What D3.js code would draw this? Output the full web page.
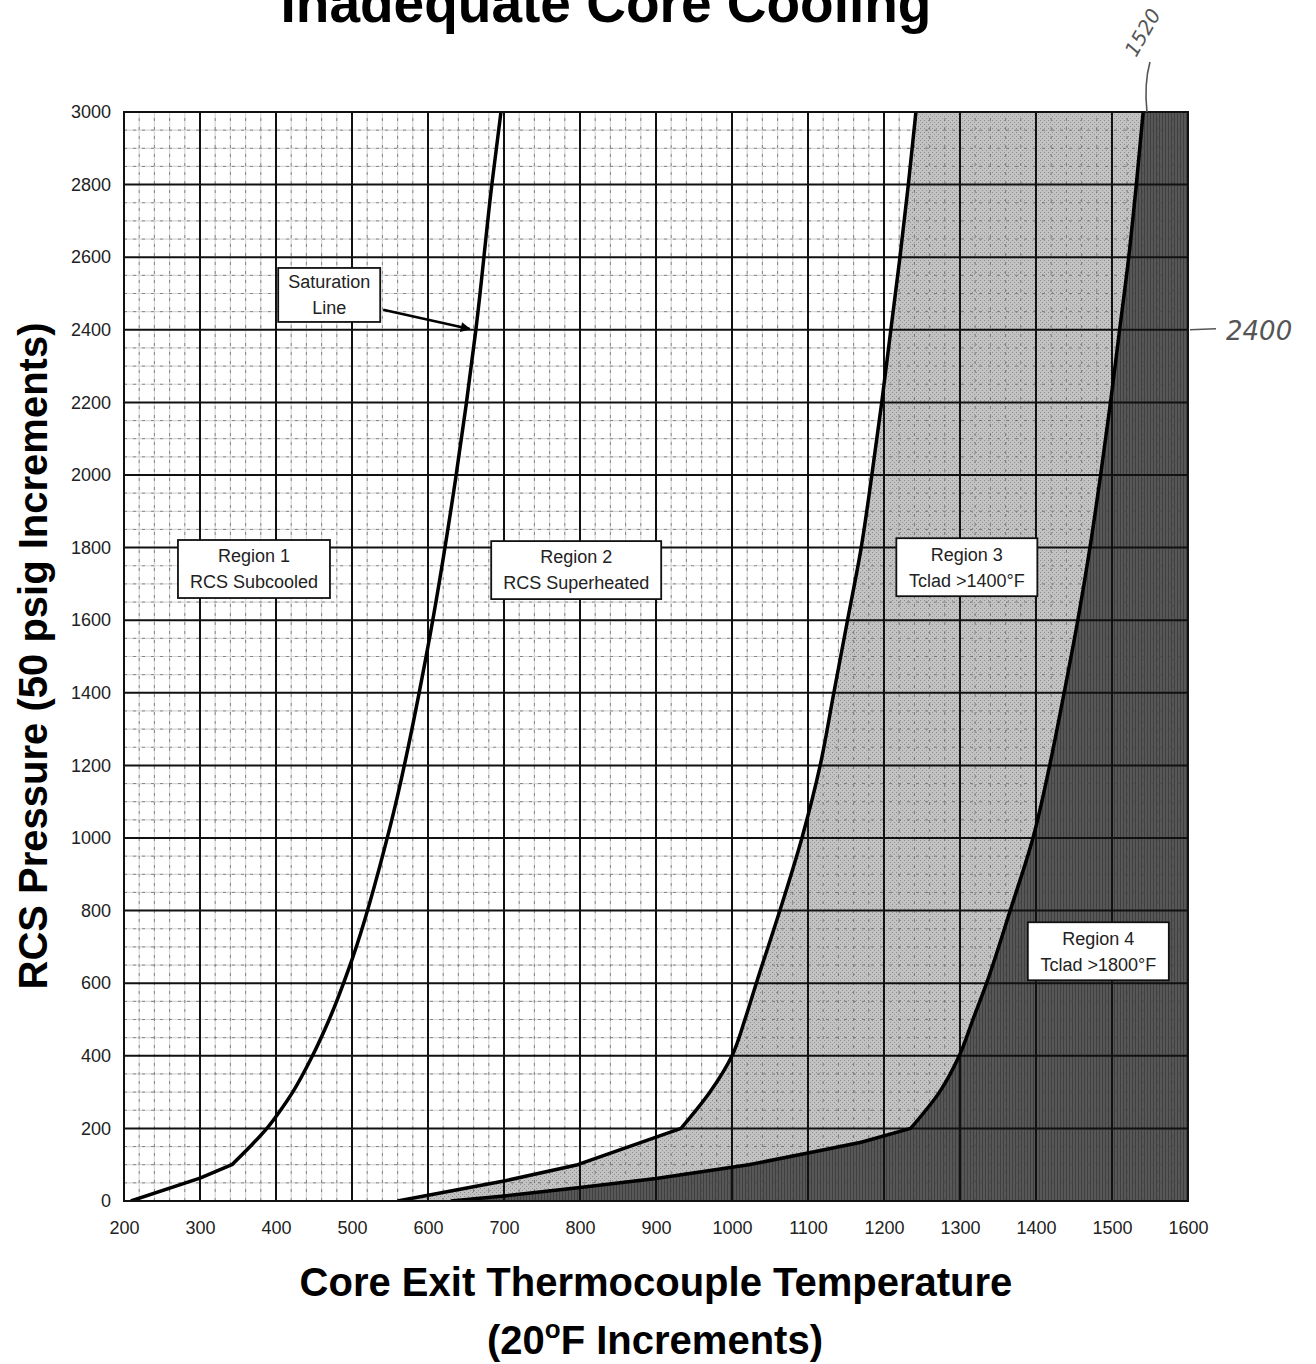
<!DOCTYPE html>
<html>
<head>
<meta charset="utf-8">
<script src="https://cdn.jsdelivr.net/npm/d3@7"></script>
<style>
  body { margin: 0; background: #fff; }
  svg { display: block; font-family: "Liberation Sans", Arial, sans-serif; }
</style>
</head>
<body>
<div id="chart"></div>
<script>
// axis ticks
const tempTicks = [200, 300, 400, 500, 600, 700, 800, 900, 1000, 1100, 1200, 1300, 1400, 1500, 1600];
const presTicks = [0, 200, 400, 600, 800, 1000, 1200, 1400, 1600, 1800, 2000, 2200, 2400, 2600, 2800, 3000];

// saturation line (Region 1 / Region 2); straight part up to the kink, then a smooth curve
const satLowTemp = [209, 300, 342];
const satLowPres = [0, 63, 100];
const satTemp = [342, 366, 388, 406, 422, 448, 470, 500, 550, 600, 636, 663, 684, 696];
const satPres = [100, 150, 200, 250, 300, 400, 500, 665, 1030, 1528, 1985, 2400, 2800, 3000];

// Region 2 / Region 3 boundary
const r3LowTemp = [560, 700, 797, 933];
const r3LowPres = [0, 55, 100, 200];
const r3Temp = [933, 971, 1000, 1017, 1032, 1063, 1092, 1116, 1134, 1152, 1170, 1184, 1197, 1209, 1221, 1232, 1242];
const r3Pres = [200, 300, 400, 500, 600, 800, 1000, 1200, 1400, 1600, 1800, 2000, 2200, 2400, 2600, 2800, 3000];

// Region 3 / Region 4 boundary
const r4LowTemp = [630, 700, 800, 900, 1022, 1100, 1170, 1235];
const r4LowPres = [0, 14, 37, 62, 100, 132, 162, 200];
const r4Temp = [1235, 1273, 1299, 1317, 1335, 1366, 1396, 1418, 1437, 1455, 1471, 1485, 1498, 1510, 1522, 1532, 1541];
const r4Pres = [200, 300, 400, 500, 600, 800, 1000, 1200, 1400, 1600, 1800, 2000, 2200, 2400, 2600, 2800, 3000];

// region labels
const labelText = [["Saturation", "Line"], ["Region 1", "RCS Subcooled"], ["Region 2", "RCS Superheated"],
                   ["Region 3", "Tclad >1400°F"], ["Region 4", "Tclad >1800°F"]];
const labelTemp = [470, 371, 795, 1309, 1482];
const labelPres = [2496, 1741, 1738, 1746, 688];
const labelWidth = [102, 152, 170, 141, 141];

const width = 1316, height = 1364;
const margin = { top: 112, right: 128, bottom: 163, left: 124 };

const svg = d3.select("#chart").append("svg")
  .attr("width", width)
  .attr("height", height);

const x = d3.scaleLinear().domain([200, 1600]).range([margin.left, width - margin.right]);
const y = d3.scaleLinear().domain([0, 3000]).range([height - margin.bottom, margin.top]);

const toPts = (ts, ps) => ts.map((t, i) => ({ t: t, p: ps[i] }));

// textures
const defs = svg.append("defs");
const p3 = defs.append("pattern").attr("id", "tex3").attr("patternUnits", "userSpaceOnUse")
  .attr("width", 4).attr("height", 4);
p3.append("rect").attr("width", 4).attr("height", 4).attr("fill", "#c2c2c2");
p3.append("rect").attr("x", 0).attr("y", 0).attr("width", 1).attr("height", 1).attr("fill", "#8c8c8c");
p3.append("rect").attr("x", 2).attr("y", 2).attr("width", 1).attr("height", 1).attr("fill", "#959595");
const p4 = defs.append("pattern").attr("id", "tex4").attr("patternUnits", "userSpaceOnUse")
  .attr("width", 3).attr("height", 3);
p4.append("rect").attr("width", 3).attr("height", 3).attr("fill", "#575757");
p4.append("rect").attr("x", 1).attr("width", 1).attr("height", 3).attr("fill", "#404040");
defs.append("clipPath").attr("id", "plotClip").append("rect")
  .attr("x", x(200)).attr("y", y(3000)).attr("width", x(1600) - x(200)).attr("height", y(0) - y(3000));
defs.append("marker").attr("id", "arrow").attr("viewBox", "0 0 10 10")
  .attr("refX", 9).attr("refY", 5).attr("markerWidth", 5).attr("markerHeight", 4)
  .attr("orient", "auto").attr("markerUnits", "strokeWidth")
  .append("path").attr("d", "M0,0L10,5L0,10z").attr("fill", "#000");

const plot = svg.append("g").attr("clip-path", "url(#plotClip)");

const minorT = d3.range(200, 1601, 20).filter(v => v % 100 !== 0);
const minorP = d3.range(0, 3001, 50).filter(v => v % 200 !== 0);

// light minor grid (only shows in the white regions)
const light = plot.append("g").attr("stroke", "#d6d6d6").attr("stroke-width", 1.2);
light.selectAll(".lv").data(minorT).join("line")
  .attr("x1", d => x(d)).attr("x2", d => x(d)).attr("y1", y(0)).attr("y2", y(3000));
light.selectAll(".lh").data(minorP).join("line")
  .attr("y1", d => y(d)).attr("y2", d => y(d)).attr("x1", x(200)).attr("x2", x(1600));

// boundary path: straight low part + smooth upper part
const lowLine = d3.line().x(d => x(d.t)).y(d => y(d.p));
const upLine = d3.line().curve(d3.curveMonotoneY).x(d => x(d.t)).y(d => y(d.p));
const boundary = (lt, lp, ut, up) => lowLine(toPts(lt, lp)) + upLine(toPts(ut, up)).replace(/^M/, "L");

const satPath = boundary(satLowTemp, satLowPres, satTemp, satPres);
const r3Path = boundary(r3LowTemp, r3LowPres, r3Temp, r3Pres);
const r4Path = boundary(r4LowTemp, r4LowPres, r4Temp, r4Pres);
const closeRight = `L${x(1600)},${y(3000)}L${x(1600)},${y(0)}Z`;

// region fills
plot.append("path").attr("d", r3Path + closeRight).attr("fill", "url(#tex3)");
plot.append("path").attr("d", r4Path + closeRight).attr("fill", "url(#tex4)");

// dashed minor grid (20 F, 50 psig)
const minor = plot.append("g").attr("stroke", "#444").attr("stroke-width", 1)
  .attr("stroke-dasharray", "3,6").attr("opacity", 0.55);
minor.selectAll(".mv").data(minorT).join("line")
  .attr("x1", d => x(d)).attr("x2", d => x(d)).attr("y1", y(0)).attr("y2", y(3000));
minor.selectAll(".mh").data(minorP).join("line")
  .attr("y1", d => y(d)).attr("y2", d => y(d)).attr("x1", x(200)).attr("x2", x(1600));

// major grid
const major = plot.append("g").attr("stroke", "#111").attr("stroke-width", 2);
major.selectAll(".v").data(tempTicks).join("line")
  .attr("x1", d => x(d)).attr("x2", d => x(d)).attr("y1", y(0)).attr("y2", y(3000));
major.selectAll(".h").data(presTicks).join("line")
  .attr("y1", d => y(d)).attr("y2", d => y(d)).attr("x1", x(200)).attr("x2", x(1600));

// boundary curves
[satPath, r3Path, r4Path].forEach(d => {
  plot.append("path")
    .attr("d", d)
    .attr("fill", "none")
    .attr("stroke", "#000")
    .attr("stroke-width", 3.5)
    .attr("stroke-linejoin", "round");
});

// frame
svg.append("rect")
  .attr("x", x(200)).attr("y", y(3000))
  .attr("width", x(1600) - x(200)).attr("height", y(0) - y(3000))
  .attr("fill", "none").attr("stroke", "#111").attr("stroke-width", 2);

// axes
const xAxis = svg.append("g")
  .attr("transform", `translate(0, ${y(0)})`)
  .call(d3.axisBottom(x).tickValues(tempTicks).tickSize(0).tickPadding(20).tickFormat(d3.format("d")));
const yAxis = svg.append("g")
  .attr("transform", `translate(${x(200)}, 0)`)
  .call(d3.axisLeft(y).tickValues(presTicks).tickSize(0).tickPadding(13).tickFormat(d3.format("d")));
[xAxis, yAxis].forEach(g => {
  g.select(".domain").remove();
  g.selectAll("text").attr("font-size", 18).attr("fill", "#222")
    .attr("font-family", "'Liberation Sans', Arial, sans-serif");
});

// saturation arrow
svg.append("line")
  .attr("x1", x(541)).attr("y1", y(2455))
  .attr("x2", x(655)).attr("y2", y(2402))
  .attr("stroke", "#000").attr("stroke-width", 2.5)
  .attr("marker-end", "url(#arrow)");

// label boxes
labelText.forEach((lines, i) => {
  const cx = x(labelTemp[i]), cy = y(labelPres[i]);
  const w = labelWidth[i], h = i === 0 ? 54 : 58;
  const g = svg.append("g");
  g.append("rect")
    .attr("x", cx - w / 2).attr("y", cy - h / 2)
    .attr("width", w).attr("height", h)
    .attr("fill", "#fff").attr("stroke", "#111").attr("stroke-width", 1.8);
  g.selectAll("text").data(lines).join("text")
    .attr("x", cx)
    .attr("y", (d, j) => cy + (j === 0 ? -13 : 13))
    .attr("dy", "0.35em")
    .attr("text-anchor", "middle")
    .attr("font-size", 18)
    .attr("fill", "#222")
    .text(d => d);
});

// titles
svg.append("text")
  .attr("x", 606).attr("y", 22)
  .attr("text-anchor", "middle")
  .attr("font-size", 55).attr("font-weight", "bold")
  .text("Inadequate Core Cooling");

svg.append("text")
  .attr("x", 656).attr("y", 1296)
  .attr("text-anchor", "middle")
  .attr("font-size", 40).attr("font-weight", "bold")
  .text("Core Exit Thermocouple Temperature");

const sub = svg.append("text")
  .attr("x", 655).attr("y", 1354)
  .attr("text-anchor", "middle")
  .attr("font-size", 40).attr("font-weight", "bold");
sub.append("tspan").text("(20");
sub.append("tspan").attr("font-size", 26).attr("dy", -16).text("o");
sub.append("tspan").attr("dy", 16).text("F Increments)");

svg.append("text")
  .attr("transform", "translate(47, 656) rotate(-90)")
  .attr("text-anchor", "middle")
  .attr("font-size", 40).attr("font-weight", "bold")
  .text("RCS Pressure (50 psig Increments)");

// handwritten notes
const note = svg.append("g").attr("fill", "none").attr("stroke", "#555").attr("stroke-width", 1.6);
note.append("path")
  .attr("d", `M${x(1546) + 3},${y(3000) - 50} Q${x(1546) - 3},${y(3000) - 28} ${x(1546)},${y(3000)}`);
note.append("path")
  .attr("d", `M${x(1600) + 2},${y(2400)} L${x(1600) + 28},${y(2400) - 1}`);
svg.append("text")
  .attr("transform", "translate(1136, 58) rotate(-60)")
  .attr("font-family", "'DejaVu Sans', sans-serif").attr("font-style", "italic")
  .attr("font-size", 20).attr("fill", "#555")
  .text("1520");
svg.append("text")
  .attr("x", x(1600) + 38).attr("y", y(2400) + 10)
  .attr("font-family", "'DejaVu Sans', sans-serif").attr("font-style", "italic")
  .attr("font-size", 26).attr("fill", "#555")
  .text("2400");
</script>
</body>
</html>
